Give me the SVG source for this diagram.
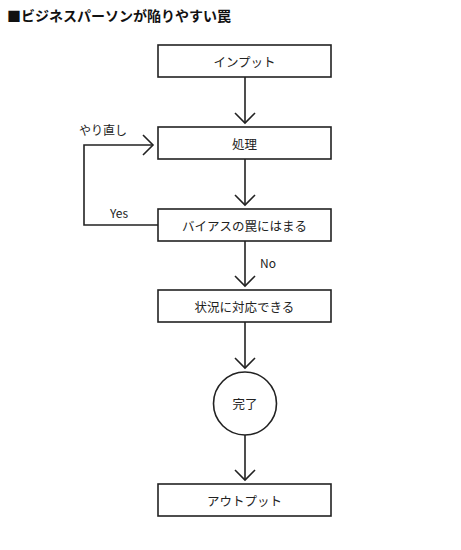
<svg xmlns="http://www.w3.org/2000/svg" width="461" height="550" viewBox="0 0 461 550">
<style>
.box{fill:#fff;stroke:#222;stroke-width:1.6}
.lbl{font-family:"Noto Sans CJK JP","Liberation Sans",sans-serif;font-size:12.5px;fill:#222;text-anchor:middle;dominant-baseline:central}
.edge{fill:none;stroke:#222;stroke-width:1.6}
.el{font-family:"Noto Sans CJK JP","Liberation Sans",sans-serif;font-size:12px;fill:#222}
.title{font-family:"Noto Sans CJK JP","Liberation Sans",sans-serif;font-size:14px;font-weight:bold;fill:#111}
</style>
<defs>
<marker id="arr" markerUnits="userSpaceOnUse" markerWidth="24" markerHeight="24" viewBox="-12 -12 24 24" refX="0" refY="0" orient="auto">
<path d="M-10,-10 L0,0 L-10,10" fill="none" stroke="#222" stroke-width="1.6"/>
</marker>
</defs>
<rect width="461" height="550" fill="#fff"/>
<text class="title" x="7" y="21">■ビジネスパーソンが陥りやすい罠</text>
<g id="edges">
<path class="edge" d="M245,77 V123" marker-end="url(#arr)"/>
<path class="edge" d="M245,159 V205" marker-end="url(#arr)"/>
<path class="edge" d="M245,241 V286" marker-end="url(#arr)"/>
<path class="edge" d="M245,322 V368" marker-end="url(#arr)"/>
<path class="edge" d="M245,435 V480" marker-end="url(#arr)"/>
<path class="edge" d="M158,225 H84 V145 H153" marker-end="url(#arr)"/>
<text class="el" x="79" y="135">やり直し</text>
<text class="el" x="110" y="218">Yes</text>
<text class="el" x="260" y="268">No</text>
</g>
<g id="input"><rect class="box" x="158" y="45" width="173" height="32"/><text class="lbl" x="244.5" y="61">インプット</text></g>
<g id="process"><rect class="box" x="158" y="127" width="173" height="32"/><text class="lbl" x="244.5" y="143">処理</text></g>
<g id="bias"><rect class="box" x="158" y="209" width="173" height="32"/><text class="lbl" x="244.5" y="225">バイアスの罠にはまる</text></g>
<g id="adapt"><rect class="box" x="158" y="290" width="173" height="32"/><text class="lbl" x="244.5" y="306">状況に対応できる</text></g>
<g id="done"><circle class="box" cx="245" cy="403.5" r="31.5"/><text class="lbl" x="245" y="403.5">完了</text></g>
<g id="output"><rect class="box" x="158" y="484" width="173" height="32"/><text class="lbl" x="244.5" y="500">アウトプット</text></g>
</svg>
